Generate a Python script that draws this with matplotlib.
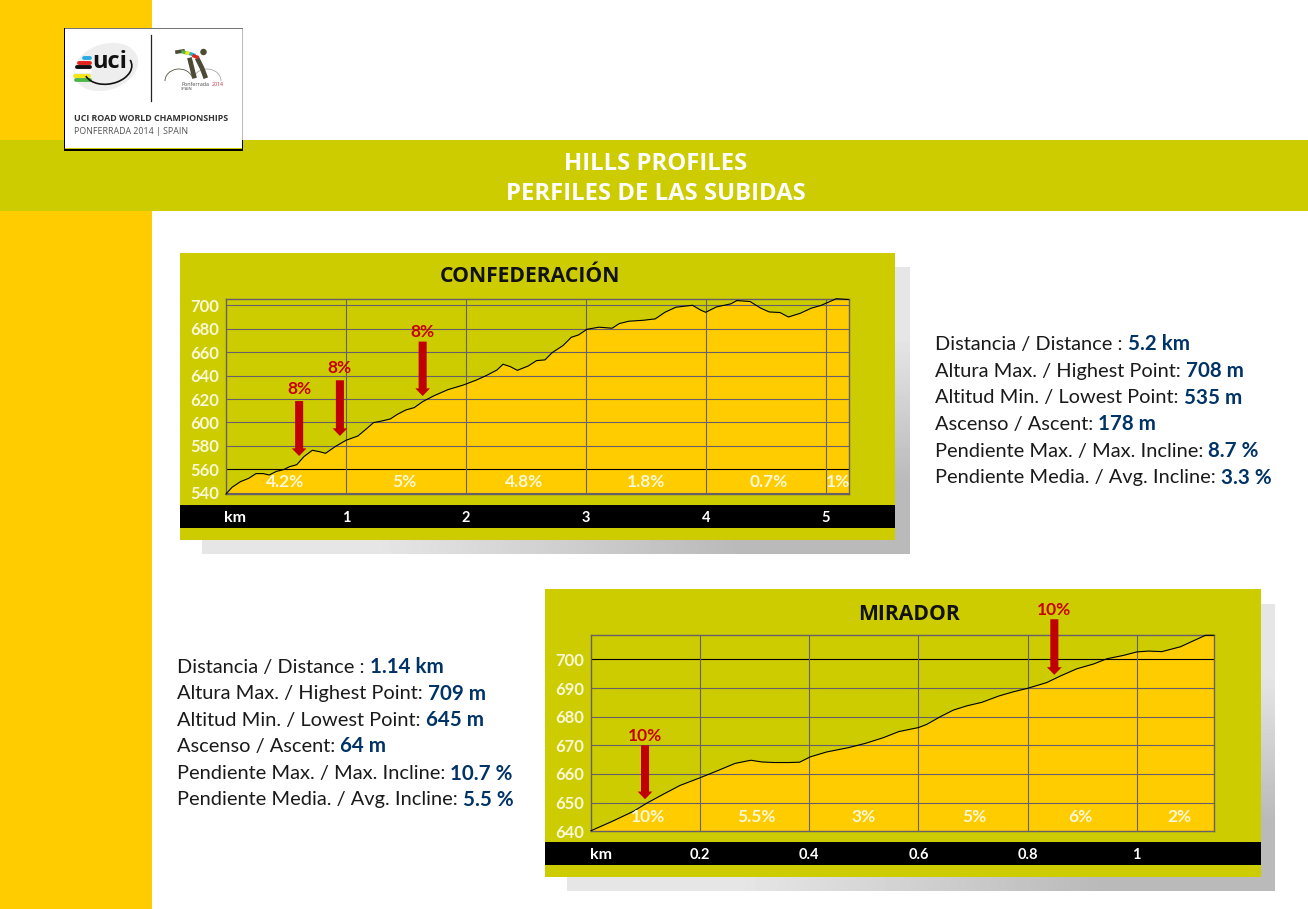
import numpy as np
import matplotlib
matplotlib.use('Agg')
import matplotlib.pyplot as plt
from matplotlib.patches import Rectangle, Ellipse, Arc

BODY = 'Lato'
YELLOW = '#FFCC00'
OLIVE = '#CCCC00'
GRID = '#686068'
RED = '#C00000'
NAVY = '#003366'
PALE = '#FBF8D8'

# Confederacion profile
conf_km = [0, 0.05, 0.12, 0.19, 0.25, 0.31, 0.36, 0.42, 0.48, 0.53, 0.59, 0.65, 0.72, 0.78,
           0.83, 0.91, 1.0, 1.10, 1.17, 1.23, 1.30, 1.37, 1.43, 1.50, 1.57, 1.64, 1.73, 1.85,
           1.98, 2.09, 2.17, 2.26, 2.31, 2.37, 2.43, 2.52, 2.59, 2.66, 2.72, 2.81, 2.88, 2.94,
           3.01, 3.11, 3.22, 3.28, 3.36, 3.48, 3.58, 3.66, 3.75, 3.89, 3.96, 4.0, 4.09, 4.21,
           4.26, 4.37, 4.46, 4.53, 4.62, 4.69, 4.79, 4.88, 4.96, 5.03, 5.09, 5.19]
conf_alt = [539, 544.7, 549.5, 552.4, 556.4, 556.4, 555.2, 558.3, 559.8, 562.3, 564, 570.9,
            576.3, 575.1, 573.7, 579.4, 584.8, 588.5, 594.5, 599.9, 601.3, 603, 607, 610.7,
            612.7, 617.8, 622.6, 628, 632, 636.3, 640, 644.8, 649.7, 647.7, 644.5, 648.2,
            652.8, 653.4, 659.6, 665.6, 672.7, 674.7, 679.5, 681.3, 680.4, 684.4, 686.4,
            687.2, 688.4, 694, 698.3, 700, 695.8, 694, 698.6, 701.2, 704, 703.2, 697.5, 694.3,
            693.8, 690, 693.2, 697.5, 699.8, 702.9, 705.6, 704.9]
conf_yticks = [540, 560, 580, 600, 620, 640, 660, 680, 700]
conf_xticks = [1, 2, 3, 4, 5]
conf_grade_km = [0.496, 1.485, 2.49, 3.5, 4.53, 5.1]
conf_grades = ['4.2%', '5%', '4.8%', '1.8%', '0.7%', '1%']
conf_arrow_km = [0.61, 0.95, 1.64]
conf_arrow_tip = [571.4, 588.5, 622.6]
conf_arrow_top = [618.3, 636, 669]
conf_arrow_label_alt = [628.8, 646.5, 677]
conf_arrow_text = ['8%', '8%', '8%']

# Mirador profile
mir_km = [0, 0.038, 0.078, 0.102, 0.136, 0.163, 0.2, 0.23, 0.264, 0.293, 0.313, 0.335, 0.362,
          0.382, 0.402, 0.432, 0.472, 0.503, 0.536, 0.564, 0.6, 0.615, 0.64, 0.664, 0.689,
          0.716, 0.747, 0.774, 0.8, 0.835, 0.86, 0.89, 0.921, 0.945, 0.976, 1.0, 1.022, 1.046,
          1.08, 1.104, 1.126, 1.141]
mir_alt = [640.2, 643.4, 647, 649.8, 653.3, 656, 658.7, 661, 663.7, 664.8, 664.2, 664, 664,
           664.1, 666, 667.7, 669.2, 670.7, 672.7, 674.8, 676.2, 677.3, 680, 682.3, 683.8,
           685, 687.2, 688.7, 689.9, 691.9, 694.2, 696.7, 698.4, 700.2, 701.4, 702.6, 702.9,
           702.7, 704.4, 706.5, 708.4, 708.4]
mir_yticks = [640, 650, 660, 670, 680, 690, 700]
mir_xticks = [0.2, 0.4, 0.6, 0.8, 1.0]
mir_xlabels = ['0.2', '0.4', '0.6', '0.8', '1']
mir_grade_km = [0.104, 0.304, 0.499, 0.702, 0.896, 1.078]
mir_grades = ['10%', '5.5%', '3%', '5%', '6%', '2%']
mir_arrow_km = [0.099, 0.849]
mir_arrow_tip = [651.2, 694.6]
mir_arrow_top = [670, 714]
mir_arrow_label_alt = [673.2, 717.2]
mir_arrow_text = ['10%', '10%']

conf_stats = ['Distancia / Distance : ', 'Altura Max. / Highest Point: ', 'Altitud Min. / Lowest Point: ',
              'Ascenso / Ascent: ', 'Pendiente Max. / Max. Incline: ', 'Pendiente Media. / Avg. Incline: ']
conf_values = ['5.2 km', '708 m', '535 m', '178 m', '8.7 %', '3.3 %']
mir_values = ['1.14 km', '709 m', '645 m', '64 m', '10.7 %', '5.5 %']

W, H = 1308, 909
fig = plt.figure(figsize=(W / 100, H / 100), dpi=100, facecolor='white')

# whole page in pixel coordinates
bg = fig.add_axes([0, 0, 1, 1])
bg.set_xlim(0, W)
bg.set_ylim(H, 0)
bg.axis('off')


def box(x0, y0, x1, y1, color, z=1):
    bg.add_patch(Rectangle((x0, y0), x1 - x0, y1 - y0, fc=color, ec='none', zorder=z))


def shadow(x0, y0, x1, y1):
    grad = np.array([[0.95, 0.9], [0.9, 0.73]])
    bg.imshow(grad, extent=(x0, x1, y1, y0), cmap='gray', vmin=0, vmax=1, aspect='auto',
              interpolation='bilinear', zorder=1)


box(0, 0, 152, H, YELLOW)
box(0, 140, W, 211, OLIVE, 2)
bg.text(656, 164, 'HILLS PROFILES', color='white', fontsize=17.2, fontweight='bold',
        family='Open Sans', ha='center', va='center', zorder=3)
bg.text(656, 194, 'PERFILES DE LAS SUBIDAS', color='white', fontsize=17.2, fontweight='bold',
        family='Open Sans', ha='center', va='center', zorder=3)

# logo
box(64, 28, 243, 151, 'black', 3)
box(65, 29, 242, 148, 'white', 3)
box(65, 148, 242, 149, OLIVE, 3)
box(65, 28, 243, 29, '#777777', 4)
box(242, 29, 243, 140, '#BBBBBB', 4)
bg.add_patch(Ellipse((106, 67), 66, 46, angle=-18, fc='#EEEEEE', ec='none', zorder=4))
for yy, x0, x1, col in [(58, 84, 90, '#29ABE2'), (62.5, 79, 90, '#E2231A'), (67, 77, 90, '#111111'),
                        (71, 76, 90, '#FFFFFF'), (75.5, 75, 89, '#F5E616'), (80, 76, 90, '#4DB848')]:
    bg.plot([x0, x1], [yy, yy], color=col, lw=2.8, solid_capstyle='round', zorder=5)
bg.text(110, 61.5, 'uci', fontsize=17, fontweight='bold', family='Open Sans', color='#111111',
        ha='center', va='center', zorder=6)
bg.add_patch(Arc((108, 68), 48, 32, angle=-10, theta1=-10, theta2=170, ec='#111111', lw=1.2, zorder=5))
bg.plot([151, 151], [35, 101], color='#222222', lw=0.9, zorder=5)
bg.add_patch(Arc((179, 81), 28, 24, theta1=180, theta2=340, ec='#55523F', lw=0.6, zorder=5))
bg.add_patch(Arc((207, 81), 28, 24, theta1=200, theta2=360, ec='#AAAAAA', lw=0.6, zorder=5))
bg.plot([190, 192, 194], [60, 68, 76], color='#4D4A35', lw=3.4, zorder=5)
bg.plot([198, 202, 205], [60, 68, 76], color='#4D4A35', lw=3.4, zorder=5)
bg.plot([177, 183], [52, 51], color='#4D4A35', lw=2.6, zorder=5)
for x0, x1, yy, col in [(183, 187, 52, '#4DB848'), (187, 191, 53, '#F5E616'), (191, 194, 54, '#29ABE2'),
                        (194, 197, 56, '#E2231A')]:
    bg.plot([x0, x1], [yy, yy + 1], color=col, lw=2.4, zorder=5)
bg.add_patch(Ellipse((203.5, 52), 6.5, 6.5, fc='#4D4A35', ec='none', zorder=5))
bg.text(181, 85, 'Ponferrada', fontsize=3.8, color='#444444', family='Open Sans', va='center', zorder=5)
bg.text(211.5, 85, '2014', fontsize=3.8, color='#C8283C', family='Open Sans', va='center', zorder=5)
bg.text(181, 89.5, 'SPAIN', fontsize=3, color='#444444', family='Open Sans', va='center', zorder=5)
bg.text(74, 118.5, 'UCI ROAD WORLD CHAMPIONSHIPS', fontsize=6.4, fontweight='bold', color='#333333',
        family='Open Sans', va='center', zorder=5)
bg.text(74, 131.5, 'PONFERRADA 2014 | SPAIN', fontsize=6.4, color='#555555', family='Open Sans',
        va='center', zorder=5)

# panels
shadow(202, 267, 910, 554)
box(180, 253, 895, 540, OLIVE, 2)
box(180, 505, 895, 528, 'black', 3)
shadow(567, 604, 1275, 891)
box(545, 589, 1261, 877, OLIVE, 2)
box(545, 842, 1261, 865, 'black', 3)
bg.set_xlim(0, W)
bg.set_ylim(H, 0)

bg.text(530, 276, 'CONFEDERACIÓN', fontsize=15.2, fontweight='bold', family='Open Sans', color='#111111',
        ha='center', va='center', zorder=4)
bg.text(909, 614, 'MIRADOR', fontsize=15.2, fontweight='bold', family='Open Sans', color='#111111',
        ha='center', va='center', zorder=4)
bg.text(235, 518, 'km', color='white', fontsize=11.5, fontweight='bold', family=BODY,
        ha='center', va='center', zorder=4)
bg.text(601, 855, 'km', color='white', fontsize=11.5, fontweight='bold', family=BODY,
        ha='center', va='center', zorder=4)


def profile(rect, km, alt, xlim, ylim, yticks, xticks, xlabels, dark, grade_km, grades, grade_y,
            arrow_km, arrow_tip, arrow_top, arrow_label_alt, arrow_text):
    x0, y0, x1, y1 = rect
    ax = fig.add_axes([x0 / W, 1 - y1 / H, (x1 - x0) / W, (y1 - y0) / H])
    ax.set_facecolor(OLIVE)
    ax.fill_between(km, alt, ylim[0], color=YELLOW, lw=0, zorder=1)
    ax.set_xlim(*xlim)
    ax.set_ylim(*ylim)
    ax.set_xticks(xticks)
    ax.set_xticklabels(xlabels, color='white', fontsize=10.5, fontweight='bold', family=BODY)
    ax.set_yticks(yticks)
    ax.set_yticklabels([str(t) for t in yticks], color=PALE, fontsize=12, fontweight='bold', family=BODY)
    ax.tick_params(axis='x', length=0, pad=12)
    ax.tick_params(axis='y', length=0, pad=5)
    for t in yticks:
        if t > ylim[0]:
            ax.axhline(t, color='black' if t == dark else GRID, lw=0.8, zorder=2)
    for t in xticks:
        ax.axvline(t, color=GRID, lw=0.8, zorder=2)
    for s in ax.spines.values():
        s.set_color(GRID)
        s.set_linewidth(1.0)
        s.set_zorder(2.5)
    ax.plot(km, alt, color='black', lw=0.8, zorder=3, clip_on=False)
    for g, lab in zip(grade_km, grades):
        ax.text(g, grade_y, lab, color=PALE, fontsize=12.5, fontweight='bold', family=BODY,
                ha='center', va='center', zorder=4)
    for a, tip, top, lab_y, lab in zip(arrow_km, arrow_tip, arrow_top, arrow_label_alt, arrow_text):
        ax.annotate('', xy=(a, tip), xytext=(a, top), zorder=5,
                    arrowprops=dict(width=5.8, headwidth=10.6, headlength=5.5, shrink=0,
                                    fc=RED, ec='none'))
        ax.text(a, lab_y, lab, color='#C80000', fontsize=12.5, fontweight='bold', family=BODY,
                ha='center', va='center', zorder=5, clip_on=False)
    return ax


profile((226, 298.7, 848.7, 494), conf_km, conf_alt, (0, 5.193), (539, 705.6), conf_yticks,
        conf_xticks, [str(t) for t in conf_xticks], 560, conf_grade_km, conf_grades, 549.5,
        conf_arrow_km, conf_arrow_tip, conf_arrow_top, conf_arrow_label_alt, conf_arrow_text)
profile((591, 635.3, 1213.7, 831.3), mir_km, mir_alt, (0, 1.141), (640, 708.4), mir_yticks,
        mir_xticks, mir_xlabels, 700, mir_grade_km, mir_grades, 645,
        mir_arrow_km, mir_arrow_tip, mir_arrow_top, mir_arrow_label_alt, mir_arrow_text)

# stats blocks
renderer = fig.canvas.get_renderer()
for x, ys, values in [(935, [344.5, 371, 397.5, 424.5, 451, 477.5], conf_values),
                      (177, [667, 694, 720.5, 746.5, 773.5, 799.5], mir_values)]:
    for y, lab, val in zip(ys, conf_stats, values):
        t = bg.text(x, y, lab.rstrip(), color='#1A1A1A', fontsize=14.4, family=BODY, va='center', zorder=4)
        w = t.get_window_extent(renderer).width
        bg.text(x + w + 5, y, val, color=NAVY, fontsize=14.8, fontweight='bold', family=BODY,
                va='center', zorder=4)

fig.savefig('out.png', dpi=100, facecolor='white')
